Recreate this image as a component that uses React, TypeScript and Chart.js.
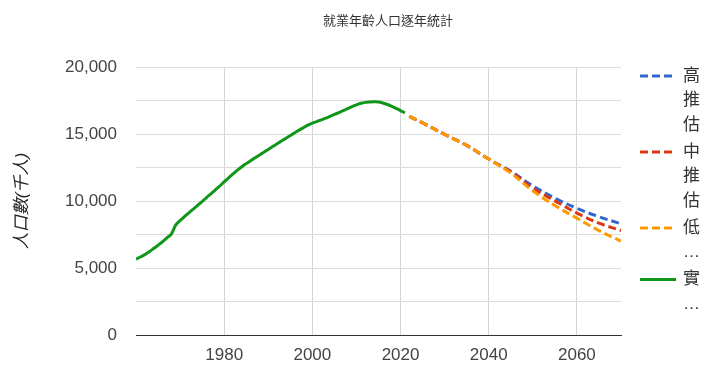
import { useEffect, useRef } from "react";
import { Chart, registerables } from "chart.js";

Chart.register(...registerables);

const titleText = "就業年齡人口逐年統計";
const yAxisTitle = "人口數(千人)";

const actualYears = [
  1960, 1961, 1962, 1963, 1964, 1965, 1966, 1967, 1968, 1969,
  1970, 1971, 1972, 1973, 1974, 1975, 1976, 1977, 1978, 1979,
  1980, 1981, 1982, 1983, 1984, 1985, 1986, 1987, 1988, 1989,
  1990, 1991, 1992, 1993, 1994, 1995, 1996, 1997, 1998, 1999,
  2000, 2001, 2002, 2003, 2004, 2005, 2006, 2007, 2008, 2009,
  2010, 2011, 2012, 2013, 2014, 2015, 2016, 2017, 2018, 2019,
  2020, 2021,
];
const actualValues = [
  5670, 5820, 6000, 6210, 6450, 6700, 6960, 7250, 7530, 8200,
  8540, 8830, 9120, 9400, 9680, 9960, 10260, 10540, 10830, 11120,
  11430, 11730, 12020, 12300, 12560, 12790, 13010, 13220, 13430, 13640,
  13850, 14060, 14270, 14480, 14690, 14890, 15090, 15290, 15480, 15660,
  15810, 15930, 16050, 16180, 16320, 16460, 16600, 16740, 16890, 17040,
  17170, 17290, 17360, 17390, 17400, 17390, 17310, 17200, 17060, 16910,
  16750, 16580,
];

const projectionYears = [2022, 2025, 2030, 2035, 2040, 2045, 2050, 2055, 2060, 2065, 2070];
const highValues = [16320, 15830, 14970, 14150, 13130, 12220, 11130, 10220, 9450, 8830, 8300];
const mediumValues = [16320, 15830, 14970, 14150, 13130, 12160, 10960, 10010, 9100, 8350, 7800];
const lowValues = [16320, 15830, 14970, 14150, 13130, 12080, 10760, 9660, 8720, 7790, 7000];

const xTickYears = [1980, 2000, 2020, 2040, 2060];
const yTickValues = [0, 2500, 5000, 7500, 10000, 12500, 15000, 17500, 20000];
const yLabelValues = [0, 5000, 10000, 15000, 20000];

const seriesNames = ["高推估", "中推估", "低推估", "實際值"];
const legendLines = [["高", "推", "估"], ["中", "推", "估"], ["低", "…"], ["實", "…"]];
const seriesColors = ["#3366cc", "#dc3912", "#ff9900", "#109618"];

const FONT = "'Liberation Sans', Arial, 'Noto Sans CJK TC', sans-serif";

const overlayPlugin = {
  id: "overlay",
  afterDraw(chart: any) {
    const ctx = chart.ctx;
    ctx.save();
    // title
    ctx.font = `13px ${FONT}`;
    ctx.fillStyle = "#333333";
    ctx.textAlign = "center";
    ctx.textBaseline = "middle";
    ctx.fillText(titleText, 388, 21);

    // legend
    ctx.font = `17px ${FONT}`;
    ctx.textAlign = "left";
    const lineH = 24.5;
    const entryGap = 27;
    let y = 76;
    chart.data.datasets.forEach((ds: any, i: number) => {
      ctx.save();
      ctx.strokeStyle = ds.borderColor;
      ctx.lineWidth = 3;
      ctx.setLineDash(ds.borderDash || []);
      ctx.beginPath();
      ctx.moveTo(640, y);
      ctx.lineTo(676, y);
      ctx.stroke();
      ctx.restore();
      ctx.fillStyle = "#333333";
      const lines = legendLines[i];
      lines.forEach((t, j) => {
        ctx.fillText(t, 683, y + j * lineH);
      });
      y += (lines.length - 1) * lineH + entryGap;
    });
    ctx.restore();
  },
};

export default function App() {
  const ref = useRef<HTMLCanvasElement | null>(null);

  useEffect(() => {
    if (!ref.current) return;
    const toPts = (xs: number[], ys: number[]) => xs.map((x, i) => ({ x, y: ys[i] }));
    const mk = (i: number, xs: number[], ys: number[], dashed: boolean, order: number) => ({
      label: seriesNames[i],
      data: toPts(xs, ys),
      borderColor: seriesColors[i],
      backgroundColor: seriesColors[i],
      borderWidth: 3,
      borderDash: dashed ? [8, 4] : [],
      pointRadius: 0,
      tension: 0.4,
      fill: false,
      order,
    });
    const chart = new Chart(ref.current, {
      type: "line",
      data: {
        datasets: [
          mk(0, projectionYears, highValues, true, 3),
          mk(1, projectionYears, mediumValues, true, 2),
          mk(2, projectionYears, lowValues, true, 1),
          mk(3, actualYears, actualValues, false, 0),
        ] as any,
      },
      options: {
        animation: false,
        responsive: false,
        events: [],
        layout: { padding: { top: 67, right: 99, left: 0, bottom: 0 } },
        plugins: {
          legend: { display: false },
          title: { display: false },
          tooltip: { enabled: false },
        },
        scales: {
          x: {
            type: "linear",
            min: 1960,
            max: 2070,
            afterBuildTicks: (scale: any) => {
              scale.ticks = xTickYears.map((v) => ({ value: v }));
            },
            afterFit: (scale: any) => {
              scale.height = 37;
            },
            grid: { color: "#d4d4d4", lineWidth: 1, drawTicks: false },
            border: { display: true, color: "#333333", width: 1 },
            ticks: {
              padding: 10,
              color: "#444444",
              font: { family: FONT, size: 17 },
              callback: (v: any) => String(v),
              maxRotation: 0,
              autoSkip: false,
            },
          },
          y: {
            type: "linear",
            min: 0,
            max: 20000,
            afterBuildTicks: (scale: any) => {
              scale.ticks = yTickValues.map((v) => ({ value: v }));
            },
            afterFit: (scale: any) => {
              scale.width = 136;
            },
            grid: {
              color: (c: any) => (c.tick && c.tick.value === 0 ? "#333333" : "#dcdcdc"),
              lineWidth: 1,
              drawTicks: false,
            },
            border: { display: false },
            ticks: {
              padding: 19,
              color: "#444444",
              font: { family: FONT, size: 17 },
              autoSkip: false,
              callback: (v: any) =>
                yLabelValues.includes(Number(v)) ? Number(v).toLocaleString("en-US") : "",
            },
            title: {
              display: true,
              text: yAxisTitle,
              color: "#222222",
              font: { family: FONT, size: 17, style: "italic" },
              padding: { top: 12, bottom: 0 },
            },
          },
        },
      },
      plugins: [overlayPlugin],
    } as any);
    return () => chart.destroy();
  }, []);

  return (
    <div style={{ position: "absolute", left: 0, top: 0, width: 720, height: 372, background: "#ffffff" }}>
      <canvas ref={ref} width={720} height={372} style={{ display: "block", width: 720, height: 372 }} />
    </div>
  );
}
